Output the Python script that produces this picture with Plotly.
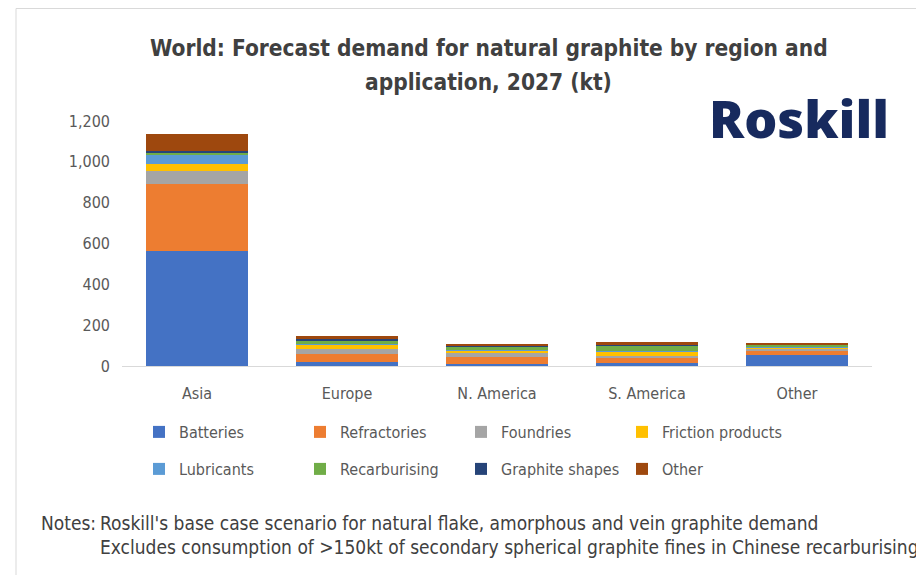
import plotly.graph_objects as go

regions = ["Asia", "Europe", "N. America", "S. America", "Other"]
applications = ["Batteries", "Refractories", "Foundries", "Friction products",
                "Lubricants", "Recarburising", "Graphite shapes", "Other"]
batteries = [565, 20, 10, 15, 55]
refractories = [325, 40, 35, 25, 20]
foundries = [63, 25, 20, 10, 10]
friction = [38, 20, 10, 20, 5]
lubricants = [42, 5, 5, 5, 3]
recarburising = [15, 15, 15, 25, 12]
graphite_shapes = [5, 5, 3, 3, 2]
other = [82, 15, 7, 17, 3]
series = [batteries, refractories, foundries, friction, lubricants,
          recarburising, graphite_shapes, other]
colors = ["#4472C4", "#ED7D31", "#A5A5A5", "#FFC000", "#5B9BD5",
          "#70AD47", "#264478", "#9E480E"]
y_ticks = [0, 200, 400, 600, 800, 1000, 1200]
y_tick_labels = ["0", "200", "400", "600", "800", "1,000", "1,200"]

FONT = "DejaVu Sans Condensed, DejaVu Sans, sans-serif"
W, H = 916, 567          # page body has an 8px margin
L, R, T, B = 114, 52, 113, 209
PW, PH = W - L - R, H - T - B


def px(xp):   # figure-pixel x -> paper
    return (xp - L) / PW


def py(yp):   # figure-pixel y -> paper
    return 1 - (yp - T) / PH


fig = go.Figure()
for i, (name, vals, col) in enumerate(zip(applications, series, colors)):
    fig.add_trace(go.Bar(
        x=regions, y=vals, name=name, marker=dict(color=col, line=dict(width=0)),
        legend="legend" if i < 4 else "legend2",
    ))

legend_common = dict(
    orientation="h", xref="container", yref="container",
    xanchor="left", yanchor="middle", traceorder="normal",
    entrywidth=116, entrywidthmode="pixels", itemwidth=30,
    font=dict(family=FONT, size=16, color="#595959"),
    bgcolor="rgba(0,0,0,0)",
)

fig.update_layout(
    width=W, height=H,
    barmode="stack", bargap=0.32,
    paper_bgcolor="white", plot_bgcolor="white",
    margin=dict(l=L, r=R, t=T, b=B, autoexpand=False),
    xaxis=dict(
        showgrid=False, showline=True, linecolor="#D9D9D9", linewidth=1,
        ticks="", tickfont=dict(family=FONT, size=16, color="#595959"),
        ticklabelstandoff=13,
    ),
    yaxis=dict(
        range=[0, 1200], showgrid=False, zeroline=False, showline=False,
        tickmode="array", tickvals=y_ticks, ticktext=y_tick_labels,
        tickfont=dict(family=FONT, size=16, color="#595959"), ticks="",
        ticklabelstandoff=11,
    ),
    legend=dict(x=131 / W, y=1 - 424 / H, **legend_common),
    legend2=dict(x=131 / W, y=1 - 461 / H, **legend_common),
    showlegend=True,
)

title_font = dict(family=FONT, size=22.5, color="#404040", weight="bold")
fig.add_annotation(text="World: Forecast demand for natural graphite by region and",
                   xref="paper", yref="paper", x=px(481), y=py(40),
                   xanchor="center", yanchor="middle", showarrow=False, font=title_font)
fig.add_annotation(text="application, 2027 (kt)",
                   xref="paper", yref="paper", x=px(480), y=py(74),
                   xanchor="center", yanchor="middle", showarrow=False, font=title_font)

fig.add_annotation(
    text="Roskill", xref="paper", yref="paper",
    x=px(791), y=py(109),
    xanchor="center", yanchor="middle", showarrow=False,
    font=dict(family="Open Sans, Roboto, sans-serif", size=52, color="#172A5E", weight=800),
)

notes_font = dict(family=FONT, size=19, color="#404040")
fig.add_annotation(text="Notes:", xref="paper", yref="paper",
                   x=px(31), y=py(515),
                   xanchor="left", yanchor="middle", showarrow=False, font=notes_font)
fig.add_annotation(
    text="Roskill's base case scenario for natural flake, amorphous and vein graphite demand",
    xref="paper", yref="paper", x=px(90), y=py(515),
    xanchor="left", yanchor="middle", showarrow=False, font=notes_font,
)
fig.add_annotation(
    text="Excludes consumption of >150kt of secondary spherical graphite fines in Chinese recarburising",
    xref="paper", yref="paper", x=px(90), y=py(539),
    xanchor="left", yanchor="middle", showarrow=False, font=notes_font,
)

fig.add_shape(type="rect", xref="paper", yref="paper",
              x0=px(8), x1=px(912), y0=py(H + 10), y1=py(0.5),
              line=dict(color="#D9D9D9", width=1), fillcolor="rgba(0,0,0,0)", layer="below")

fig.write_html("out.html")
